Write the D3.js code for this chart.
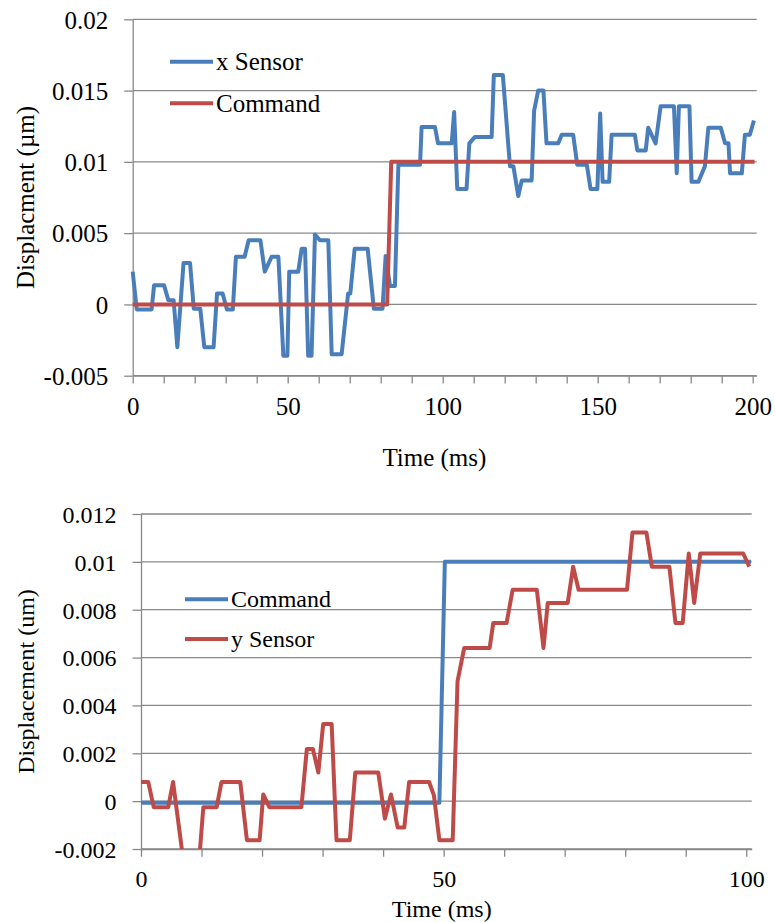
<!DOCTYPE html>
<html>
<head>
<meta charset="utf-8">
<script src="https://cdn.jsdelivr.net/npm/d3@7"></script>
<style>
  body { margin: 0; background: #fff; }
  svg text { font-family: "Liberation Serif", "Times New Roman", serif; fill: #000; }
</style>
</head>
<body>
<svg id="chart-svg" width="775" height="922"></svg>
<script>
// ---- top chart data (x axis) ----
const xSensorTime = [0, 1.3, 6.1, 6.9, 10.1, 11.5, 13.2, 14.4, 16.4, 18.5, 19.7, 21.8, 23.1, 26.1, 27.2, 29.0,
  30.4, 32.3, 33.3, 36.1, 37.4, 41.2, 42.6, 44.8, 47.0, 48.6, 49.9, 50.5, 53.4, 54.5, 55.6, 56.6, 57.7,
  58.8, 60.4, 63.1, 64.2, 67.4, 69.5, 70.2, 71.6, 75.8, 77.8, 80.6, 81.6, 83.0, 84.6, 85.7, 92.7, 93.2,
  97.5, 98.5, 102.9, 103.7, 104.7, 107.7, 108.6, 110.4, 115.8, 116.5, 119.4, 121.7, 122.8, 124.4, 125.5,
  128.7, 129.5, 130.8, 132.5, 133.5, 137.3, 138.4, 142.1, 143.4, 146.5, 147.7, 149.9, 150.8, 151.6, 153.7,
  154.5, 162.0, 162.8, 165.5, 166.3, 168.7, 170.3, 174.6, 175.5, 176.2, 179.6, 180.3, 182.5, 184.6, 185.7,
  189.7, 191.1, 192.2, 192.7, 196.5, 197.5, 199.1, 200.4];
const xSensorValue = [0.0023, -0.00035, -0.00035, 0.00135, 0.00135, 0.0003, 0.0003, -0.003, 0.0029, 0.0029,
  -0.0003, -0.0003, -0.003, -0.003, 0.00077, 0.00077, -0.00035, -0.00035, 0.00334, 0.00334, 0.0045, 0.0045,
  0.0023, 0.00334, 0.00334, -0.0036, -0.0036, 0.0023, 0.0023, 0.0039, 0.0039, -0.0036, -0.0036, 0.0049,
  0.0045, 0.0045, -0.0035, -0.0035, 0.00077, 0.00077, 0.0039, 0.0039, -0.0003, -0.0003, 0.0034, 0.0013,
  0.0013, 0.0098, 0.0098, 0.01245, 0.01245, 0.0113, 0.0113, 0.0135, 0.0081, 0.0081, 0.0113, 0.01175,
  0.01175, 0.0161, 0.0161, 0.0097, 0.0097, 0.0076, 0.0087, 0.0087, 0.0136, 0.0150, 0.0150, 0.0113, 0.0113,
  0.0119, 0.0119, 0.0098, 0.0098, 0.0081, 0.0081, 0.0134, 0.0086, 0.0086, 0.0119, 0.0119, 0.0108, 0.0108,
  0.0124, 0.0113, 0.0139, 0.0139, 0.0092, 0.0139, 0.0139, 0.0086, 0.0086, 0.0097, 0.0124, 0.0124, 0.0113,
  0.0113, 0.0092, 0.0092, 0.0119, 0.0119, 0.0129];
const xCommandTime = [0, 82.1, 83.4, 200.6];
const xCommandValue = [0, 0, 0.01, 0.01];
const topYTicks = [-0.005, 0, 0.005, 0.01, 0.015, 0.02];
const topXTicks = d3.range(0, 201, 10);
const topXLabels = [0, 50, 100, 150, 200];

// ---- bottom chart data (y axis) ----
const yCommandTime = [0, 49.3, 50.2, 100.8];
const yCommandValue = [-0.00007, -0.00007, 0.01, 0.01];
const ySensorTime = [0, 1.2, 2.1, 4.5, 5.3, 7.0, 9.6, 10.3, 12.5, 13.3, 16.4, 17.5, 19.6, 20.2, 21.2, 26.5,
  27.4, 28.4, 29.3, 30.1, 31.5, 32.3, 34.5, 35.4, 39.2, 40.3, 41.3, 42.4, 43.5, 44.3, 47.6, 48.4, 49.3,
  51.5, 52.3, 53.4, 57.6, 58.2, 60.4, 61.4, 65.4, 66.5, 67.2, 70.5, 71.4, 72.3, 80.3, 81.2, 83.5, 84.4,
  87.3, 88.3, 89.5, 90.5, 91.4, 92.4, 99.5, 100.5];
const ySensorValue = [0.0008, 0.0008, -0.00025, -0.00025, 0.0008, -0.0025, -0.0025, -0.00025, -0.00025,
  0.0008, 0.0008, -0.00163, -0.00163, 0.00028, -0.00025, -0.00025, 0.00218, 0.00218, 0.0012, 0.00322,
  0.00322, -0.00163, -0.00163, 0.0012, 0.0012, -0.00073, 0.00028, -0.0011, -0.0011, 0.0008, 0.0008,
  0.00024, -0.00163, -0.00163, 0.00502, 0.0064, 0.0064, 0.00744, 0.00744, 0.00883, 0.00883, 0.0064,
  0.00828, 0.00828, 0.0098, 0.00883, 0.00883, 0.01123, 0.01123, 0.0098, 0.0098, 0.00744, 0.00744,
  0.01035, 0.00828, 0.01035, 0.01035, 0.0098];
const bottomYTicks = [-0.002, 0, 0.002, 0.004, 0.006, 0.008, 0.01, 0.012];
const bottomXTicks = d3.range(0, 101, 10);
const bottomXLabels = [0, 50, 100];

const blue = '#4a7ebb', red = '#be4b48', grid = '#898989';
const zip = (ts, vs) => ts.map((t, i) => ({ t: t, v: vs[i] }));

const svg = d3.select('#chart-svg');

function drawChart(cfg) {
  const x = d3.scaleLinear().domain(cfg.xDomain).range([cfg.left, cfg.right]);
  const y = d3.scaleLinear().domain(cfg.yDomain).range([cfg.bottom, cfg.top]);
  const g = svg.append('g');

  // gridlines
  g.append('g').selectAll('line').data(cfg.yTicks).join('line')
    .attr('x1', cfg.left).attr('x2', cfg.right)
    .attr('y1', d => y(d)).attr('y2', d => y(d))
    .attr('stroke', grid).attr('stroke-width', 1.3);

  // y axis
  const yAxis = g.append('g')
    .attr('transform', `translate(${cfg.left},0)`)
    .call(d3.axisLeft(y).tickValues(cfg.yTicks).tickSize(8.5).tickSizeOuter(0)
      .tickPadding(16).tickFormat(d => String(+d.toFixed(4))));
  yAxis.selectAll('path, line').attr('stroke', grid).attr('stroke-width', 1.3);
  yAxis.selectAll('text').style('font-size', cfg.fontSize + 'px')
    .attr('font-family', null).attr('dy', '0.35em');

  // x axis
  const xAxis = g.append('g')
    .attr('transform', `translate(0,${cfg.bottom})`)
    .call(d3.axisBottom(x).tickValues(cfg.xTicks).tickSize(7.7).tickSizeOuter(0)
      .tickFormat(d => cfg.xLabels.includes(d) ? d : ''));
  xAxis.selectAll('path, line').attr('stroke', grid).attr('stroke-width', 1.3);
  xAxis.selectAll('text').style('font-size', cfg.fontSize + 'px')
    .attr('font-family', null).attr('dy', null).attr('y', cfg.xLabelOffset);

  // axis titles
  g.append('text')
    .attr('x', (cfg.left + cfg.right) / 2 + cfg.xTitleShift).attr('y', cfg.xTitleY)
    .attr('text-anchor', 'middle').style('font-size', cfg.fontSize + 'px')
    .text('Time (ms)');
  g.append('text')
    .attr('transform', `translate(${cfg.yTitleX},${(cfg.top + cfg.bottom) / 2}) rotate(-90)`)
    .attr('text-anchor', 'middle').style('font-size', cfg.fontSize + 'px')
    .text(cfg.yTitle);

  // clip to plot area (vertically)
  const clipId = 'clip' + cfg.id;
  svg.append('clipPath').attr('id', clipId).append('rect')
    .attr('x', cfg.left - 6).attr('y', cfg.top - 6)
    .attr('width', cfg.right - cfg.left + 12).attr('height', cfg.bottom - cfg.top + 6);

  const line = d3.line().x(d => x(d.t)).y(d => y(d.v));
  g.append('g').attr('clip-path', `url(#${clipId})`)
    .selectAll('path').data(cfg.series).join('path')
    .attr('d', d => line(d.points))
    .attr('fill', 'none').attr('stroke', d => d.color)
    .attr('stroke-width', 4).attr('stroke-linejoin', 'round');

  // legend
  const legend = g.append('g').attr('transform', `translate(${cfg.legendX},${cfg.legendY})`);
  cfg.series.forEach((s, i) => {
    const row = legend.append('g').attr('transform', `translate(0,${i * cfg.legendGap})`);
    row.append('line').attr('x1', 0).attr('x2', 43).attr('y1', 0).attr('y2', 0)
      .attr('stroke', s.color).attr('stroke-width', 4);
    row.append('text').attr('x', 46).attr('dy', '0.33em')
      .style('font-size', cfg.fontSize + 'px').text(s.name);
  });
}

drawChart({
  id: 'top', left: 132.7, right: 756.7, top: 19.3, bottom: 375.7,
  xDomain: [0, 201.3], yDomain: [-0.005, 0.02],
  xTicks: topXTicks, xLabels: topXLabels, yTicks: topYTicks,
  fontSize: 25, xLabelOffset: 39.3, xTitleY: 466, xTitleShift: -10.3,
  yTitle: 'Displacment (µm)', yTitleX: 34,
  legendX: 170, legendY: 61.7, legendGap: 41.6,
  series: [
    { name: 'x Sensor', color: blue, points: zip(xSensorTime, xSensorValue) },
    { name: 'Command', color: red, points: zip(xCommandTime, xCommandValue) }
  ]
});

drawChart({
  id: 'bottom', left: 141, right: 751.7, top: 514, bottom: 849,
  xDomain: [0, 100.9], yDomain: [-0.002, 0.012],
  xTicks: bottomXTicks, xLabels: bottomXLabels, yTicks: bottomYTicks,
  fontSize: 24, xLabelOffset: 38, xTitleY: 916.7, xTitleShift: -4.6,
  yTitle: 'Displacement (um)', yTitleX: 33.5,
  legendX: 185, legendY: 599.3, legendGap: 39.7,
  series: [
    { name: 'Command', color: blue, points: zip(yCommandTime, yCommandValue) },
    { name: 'y Sensor', color: red, points: zip(ySensorTime, ySensorValue) }
  ]
});
</script>
</body>
</html>
